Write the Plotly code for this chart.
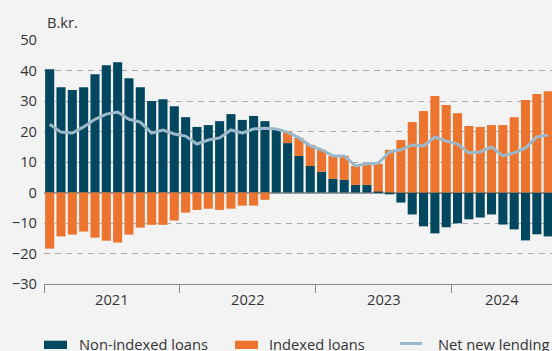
import plotly.graph_objects as go

# Monthly net new lending to households, Jan 2021 - Sep 2024 (B.kr.)
months = [f"{y}-{m:02d}" for y in (2021, 2022, 2023, 2024) for m in range(1, 13)][:45]

non_indexed = [
    40.4, 34.5, 33.6, 34.5, 38.8, 41.7, 42.7, 37.5, 34.5, 30.0, 30.6, 28.3,
    24.7, 21.5, 22.1, 23.4, 25.7, 23.8, 25.1, 23.4, 20.8, 16.2, 12.0, 8.7,
    6.8, 4.5, 4.2, 2.5, 2.5, 0.3, -0.6, -3.3, -7.2, -11.1, -13.4, -11.4,
    -10.1, -8.8, -8.2, -7.2, -10.5, -12.1, -15.7, -13.7, -14.4,
]
indexed = [
    -18.4, -14.4, -13.8, -12.8, -14.8, -15.8, -16.4, -13.8, -11.5, -10.6, -10.6, -9.2,
    -6.6, -5.7, -5.3, -5.7, -5.3, -4.3, -4.3, -2.4, 0.0, 3.9, 5.9, 6.9,
    7.2, 7.5, 7.8, 6.2, 6.9, 9.1, 14.0, 17.2, 23.1, 26.7, 31.6, 28.7,
    26.0, 21.8, 21.5, 22.1, 22.1, 24.7, 30.3, 32.3, 33.2,
]
net_new_lending = [
    22.4, 19.8, 19.5, 21.5, 24.0, 25.7, 26.4, 24.0, 23.1, 19.5, 20.5, 19.2,
    18.5, 15.9, 17.2, 17.9, 20.5, 19.5, 20.8, 21.1, 20.8, 19.8, 17.9, 15.3,
    14.0, 12.0, 12.0, 8.7, 9.4, 9.6, 13.3, 14.0, 15.6, 15.3, 18.2, 16.9,
    15.9, 13.0, 13.3, 14.9, 12.0, 13.0, 14.6, 18.2, 18.9,
]
years = ["2021", "2022", "2023", "2024"]
series_names = ["Non-indexed loans", "Indexed loans", "Net new lending"]
y_ticks = [-30, -20, -10, 0, 10, 20, 30, 40, 50]

DARK = "#00475f"
ORANGE = "#ec742e"
LIGHT = "#9cb9c9"
BG = "#f3f3f3"
TEXT = "#333333"
FONT = "Open Sans"
FS = 14.7

W, H = 552, 351
ML, MR, MT, MB = 44, 0, 40, 67
PW, PH = W - ML - MR, H - MT - MB

x = list(range(len(months)))
x_max = -0.5 + PW / 11.33

fig = go.Figure()
fig.add_trace(go.Bar(x=x, y=non_indexed, name=series_names[0], marker_color=DARK,
                     marker_line_width=0, hovertext=months))
fig.add_trace(go.Bar(x=x, y=indexed, name=series_names[1], marker_color=ORANGE,
                     marker_line_width=0, hovertext=months))
fig.add_trace(go.Scatter(x=x, y=net_new_lending, name=series_names[2], mode="lines",
                         line=dict(color=LIGHT, width=3), hovertext=months))


def px_x(p):
    return (p - ML) / PW


def px_y(p):
    return (H - MB - p) / PH


annotations = [
    dict(text="B.kr.", xref="paper", yref="paper", x=px_x(45), y=px_y(22),
         xanchor="left", yanchor="middle", showarrow=False,
         font=dict(family=FONT, size=FS, color=TEXT)),
]
# Year labels, centred on each year's visible span
year_bounds = [-0.5, 11.5, 23.5, 35.5, x_max]
for i, yr in enumerate(years):
    annotations.append(dict(
        text=yr, xref="x", yref="paper", x=(year_bounds[i] + year_bounds[i + 1]) / 2,
        y=px_y(299), xanchor="center", yanchor="middle", showarrow=False,
        font=dict(family=FONT, size=FS, color=TEXT)))

# Legend drawn below the axis
shapes = []
legend_items = [(44, DARK, "rect"), (235, ORANGE, "rect"), (400, LIGHT, "line")]
legend_text_x = [76.5, 266.5, 436]
for (lx, col, kind), tx, name in zip(legend_items, legend_text_x, series_names):
    if kind == "rect":
        shapes.append(dict(type="rect", xref="paper", yref="paper",
                           x0=px_x(lx), x1=px_x(lx + 23), y0=px_y(349), y1=px_y(340.7),
                           fillcolor=col, line_width=0, layer="above"))
    else:
        shapes.append(dict(type="line", xref="paper", yref="paper",
                           x0=px_x(lx), x1=px_x(lx + 22), y0=px_y(343.5), y1=px_y(343.5),
                           line=dict(color=col, width=3), layer="above"))
    annotations.append(dict(text=name, xref="paper", yref="paper", x=px_x(tx), y=px_y(344),
                            xanchor="left", yanchor="middle", showarrow=False,
                            font=dict(family=FONT, size=FS, color=TEXT)))

fig.update_layout(
    width=W, height=H,
    margin=dict(l=ML, r=MR, t=MT, b=MB),
    paper_bgcolor=BG, plot_bgcolor=BG,
    barmode="relative", bargap=0.2,
    showlegend=False,
    font=dict(family=FONT, size=FS, color=TEXT),
    xaxis=dict(range=[-0.5, x_max], tickvals=year_bounds[:4], ticks="outside",
               ticklen=8, tickcolor="#8a8a8a", tickwidth=1, showticklabels=False,
               showline=True, linecolor="#8a8a8a", linewidth=1, showgrid=False,
               zeroline=False, fixedrange=True),
    yaxis=dict(range=[-30, 50], tickvals=y_ticks, showgrid=True, gridcolor="#ababab",
               gridwidth=1, griddash="6px,5px", zeroline=True, zerolinecolor="#9a9a9a",
               zerolinewidth=1.5, showline=False, ticks="", ticklabelstandoff=6,
               tickfont=dict(family=FONT, size=FS, color=TEXT), fixedrange=True),
    annotations=annotations,
    shapes=shapes,
)

fig.write_html("out.html")
